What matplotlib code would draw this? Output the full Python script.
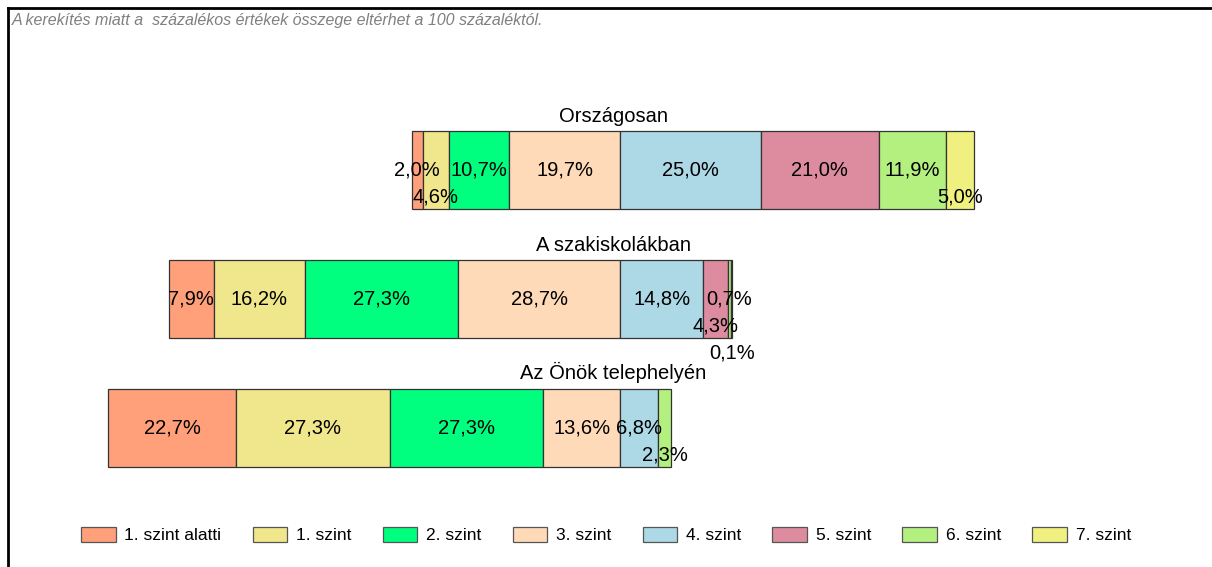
import matplotlib
matplotlib.use("Agg")
import matplotlib.pyplot as plt
from matplotlib.lines import Line2D
from matplotlib.patches import Patch

plt.rcParams['font.family'] = ['Liberation Sans', 'DejaVu Sans']

groups = ['Országosan', 'A szakiskolákban', 'Az Önök telephelyén']
levels = ['1. szint alatti', '1. szint', '2. szint', '3. szint',
          '4. szint', '5. szint', '6. szint', '7. szint']
colors = ['#FFA07A', '#F0E68C', '#00FF7F', '#FFDAB9',
          '#ADD8E6', '#DC8C9E', '#B4F080', '#F0F080']

# percentages per group, in level order
orszagos = [2.0, 4.6, 10.7, 19.7, 25.0, 21.0, 11.9, 5.0]
szakiskola = [7.9, 16.2, 27.3, 28.7, 14.8, 4.3, 0.7, 0.1]
telephely = [22.7, 27.3, 27.3, 13.6, 6.8, 0.0, 2.3, 0.0]
values = [orszagos, szakiskola, telephely]

# label row: 0 = middle of bar, 1 = lower, 2 = below the bar
label_rows = [
    [0, 1, 0, 0, 0, 0, 0, 1],
    [0, 0, 0, 0, 0, 1, 0, 2],
    [0, 0, 0, 0, 0, 0, 1, 0],
]

note = 'A kerekítés miatt a  százalékos értékek összege eltérhet a 100 százaléktól.'

W, H = 1212, 567
fig = plt.figure(figsize=(W / 100, H / 100), dpi=100)
ax = fig.add_axes([0, 0, 1, 1])

px_per_pct = 5.63
zero_px = 620
ax.set_xlim(-zero_px / px_per_pct, (W - zero_px) / px_per_pct)
row_px = 128.75
first_px = 170
ax.set_ylim((H - first_px) / row_px, -first_px / row_px)
ax.axis('off')

bar_h = 78 / row_px
n_left = 4  # levels below "4. szint" go to the left of zero

for i, vals in enumerate(values):
    left = -sum(vals[:n_left])
    for j, v in enumerate(vals):
        if v > 0:
            ax.barh(i, v, left=left, height=bar_h, color=colors[j],
                    edgecolor='#333333', linewidth=0.9)
            dy = label_rows[i][j] * 27 / row_px
            ax.text(left + v / 2, i + dy, f'{v:.1f}%'.replace('.', ','),
                    ha='center', va='center', fontsize=14.5, color='black')
        left += v
    ax.text(-1.2, i - bar_h / 2 - 0.04, groups[i], ha='center',
            va='bottom', fontsize=14.5, color='black')

fig.text(12 / W, 1 - 21 / H, note, fontsize=11.5, style='italic',
         color='#808080', ha='left', va='center')

# frame lines (top and left)
fig.add_artist(Line2D([8 / W, 1], [1 - 8 / H, 1 - 8 / H], color='black',
                      linewidth=2, transform=fig.transFigure))
fig.add_artist(Line2D([8 / W, 8 / W], [0, 1 - 8 / H], color='black',
                      linewidth=2, transform=fig.transFigure))

handles = [Patch(facecolor=c, edgecolor='#555555', linewidth=0.9) for c in colors]
fig.legend(handles, levels, loc='center', bbox_to_anchor=(0.5, 1 - 535 / H),
           ncol=8, frameon=False, fontsize=12.5, handlelength=2.0,
           handleheight=0.95, handletextpad=0.5, columnspacing=1.8)

fig.savefig('out.png', dpi=100)
